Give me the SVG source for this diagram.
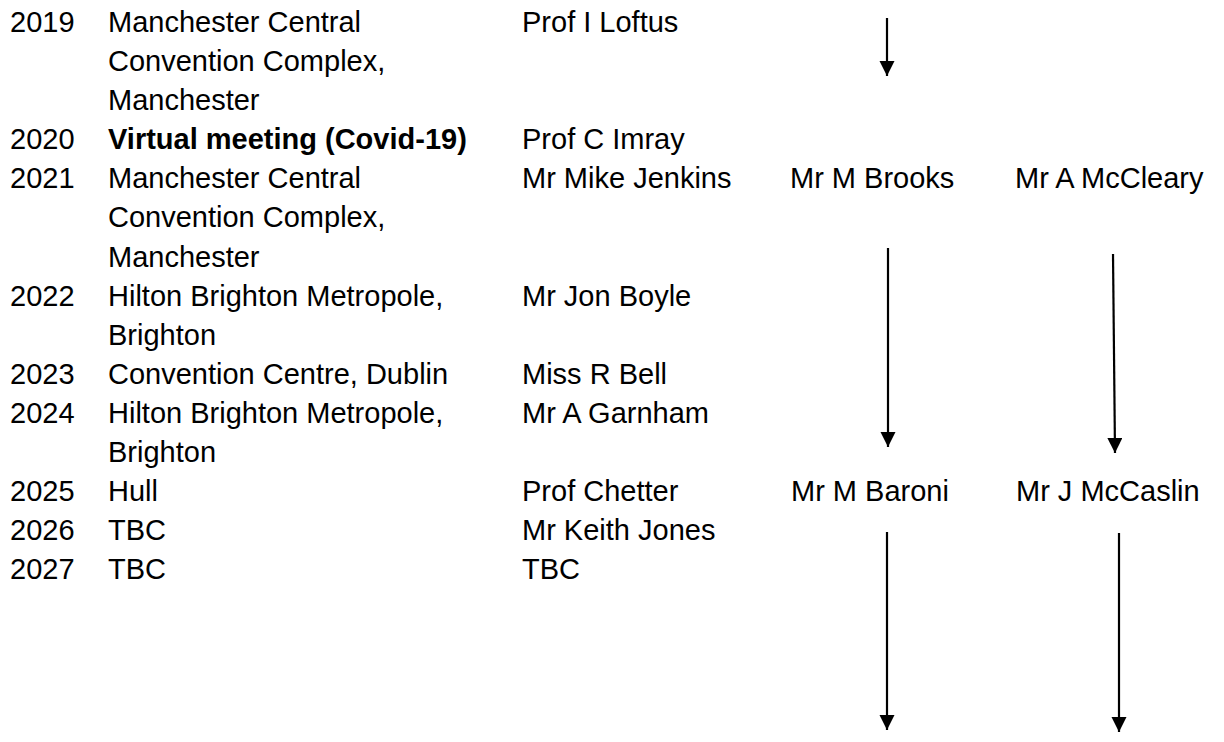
<svg xmlns="http://www.w3.org/2000/svg" width="1224" height="742" viewBox="0 0 1224 742">
<style>
text{font-family:"Liberation Sans",Arial,sans-serif;font-size:29px;fill:#000}
.b{font-weight:bold}
.arr{stroke:#000;stroke-width:2.2;fill:none;marker-end:url(#ah)}
</style>
<defs>
<marker id="ah" markerUnits="userSpaceOnUse" markerWidth="16" markerHeight="16" refX="15" refY="7.5" orient="auto">
<path d="M0,0 L15,7.5 L0,15 z" fill="#000"/>
</marker>
</defs>
<rect width="1224" height="742" fill="#fff"/>
<g id="row2019">
<text x="10" y="32">2019</text>
<text x="108" y="32">Manchester Central</text>
<text x="108" y="71">Convention Complex,</text>
<text x="108" y="110">Manchester</text>
<text x="522" y="32">Prof I Loftus</text>
</g>
<g id="row2020">
<text x="10" y="149">2020</text>
<text x="108" y="149" class="b">Virtual meeting (Covid-19)</text>
<text x="522" y="149">Prof C Imray</text>
</g>
<g id="row2021">
<text x="10" y="188">2021</text>
<text x="108" y="188">Manchester Central</text>
<text x="108" y="227">Convention Complex,</text>
<text x="108" y="267">Manchester</text>
<text x="522" y="188">Mr Mike Jenkins</text>
<text x="790" y="188">Mr M Brooks</text>
<text x="1015" y="188">Mr A McCleary</text>
</g>
<g id="row2022">
<text x="10" y="306">2022</text>
<text x="108" y="306">Hilton Brighton Metropole,</text>
<text x="108" y="345">Brighton</text>
<text x="522" y="306">Mr Jon Boyle</text>
</g>
<g id="row2023">
<text x="10" y="384">2023</text>
<text x="108" y="384">Convention Centre, Dublin</text>
<text x="522" y="384">Miss R Bell</text>
</g>
<g id="row2024">
<text x="10" y="423">2024</text>
<text x="108" y="423">Hilton Brighton Metropole,</text>
<text x="108" y="462">Brighton</text>
<text x="522" y="423">Mr A Garnham</text>
</g>
<g id="row2025">
<text x="10" y="501">2025</text>
<text x="108" y="501">Hull</text>
<text x="522" y="501">Prof Chetter</text>
<text x="791" y="501">Mr M Baroni</text>
<text x="1016" y="501">Mr J McCaslin</text>
</g>
<g id="row2026">
<text x="10" y="540">2026</text>
<text x="108" y="540">TBC</text>
<text x="522" y="540">Mr Keith Jones</text>
</g>
<g id="row2027">
<text x="10" y="579">2027</text>
<text x="108" y="579">TBC</text>
<text x="522" y="579">TBC</text>
</g>
<g id="connectors">
<line class="arr" x1="887" y1="18" x2="887" y2="76"/>
<line class="arr" x1="888" y1="248" x2="888" y2="447"/>
<line class="arr" x1="1113" y1="254" x2="1115" y2="453"/>
<line class="arr" x1="887" y1="532" x2="887" y2="730"/>
<line class="arr" x1="1119" y1="533" x2="1119" y2="732"/>
</g>
</svg>
